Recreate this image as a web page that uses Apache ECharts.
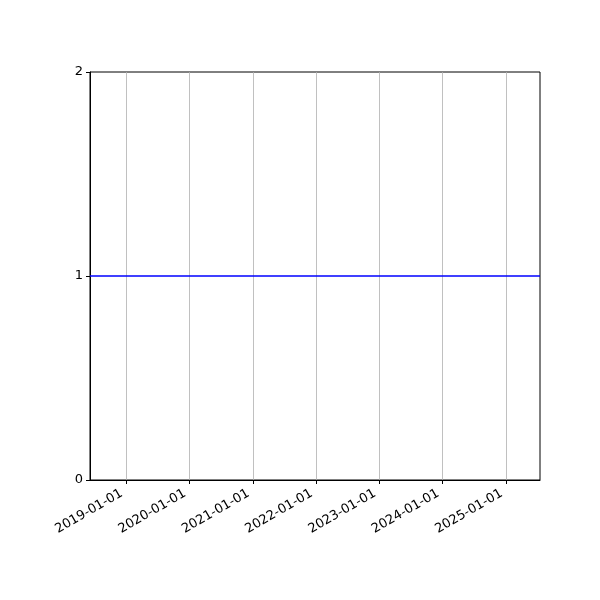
<!DOCTYPE html>
<html>
<head>
<meta charset="utf-8">
<script src="https://cdn.jsdelivr.net/npm/echarts@6/dist/echarts.min.js"></script>
<style>html,body{margin:0;padding:0;background:#fff;}#c{width:600px;height:600px;}</style>
</head>
<body>
<div id="c"></div>
<script>
const dates = ['2018-06-07', '2025-07-16'];
const values = [1, 1];
const xTicks = ['2019-01-01','2020-01-01','2021-01-01','2022-01-01','2023-01-01','2024-01-01','2025-01-01'];
const yTicks = [0, 1, 2];

const ts = s => Date.parse(s + 'T00:00:00Z');
const chart = echarts.init(document.getElementById('c'), null, {renderer: 'canvas'});
const font = 'DejaVu Sans';
const tickVals = xTicks.map(ts);
const fmt = v => { const d = new Date(v); const p = n => String(n).padStart(2, '0'); return d.getUTCFullYear() + '-' + p(d.getUTCMonth() + 1) + '-' + p(d.getUTCDate()); };
chart.setOption({
  animation: false,
  backgroundColor: '#fff',
  grid: {left: 90, right: 60, top: 72, bottom: 120, show: true, borderColor: '#000', borderWidth: 1, backgroundColor: 'transparent'},
  xAxis: {
    type: 'value',
    min: ts(dates[0]), max: ts(dates[dates.length - 1]),
    axisLine: {show: true, onZero: false, lineStyle: {color: '#000', width: 1}},
    axisTick: {show: true, customValues: tickVals, length: 4, lineStyle: {color: '#000'}},
    axisLabel: {customValues: tickVals, rotate: 30, fontFamily: font, fontSize: 13, color: '#000', margin: 10, padding: [0, 5, 0, 0], formatter: fmt},
    splitLine: {show: true, lineStyle: {color: '#b0b0b0', width: 0.8}}
  },
  yAxis: {
    type: 'value', min: yTicks[0], max: yTicks[yTicks.length - 1], interval: 1,
    axisLine: {show: true, lineStyle: {color: '#000', width: 1}},
    axisTick: {show: true, length: 4, lineStyle: {color: '#000'}},
    axisLabel: {fontFamily: font, fontSize: 13, color: '#000', margin: 7},
    splitLine: {show: false}
  },
  series: [{
    type: 'line',
    data: dates.map((d, i) => [ts(d), values[i]]),
    showSymbol: false,
    lineStyle: {color: '#0000ff', width: 1.6},
    itemStyle: {color: '#0000ff'}
  }]
});
</script>
</body>
</html>
